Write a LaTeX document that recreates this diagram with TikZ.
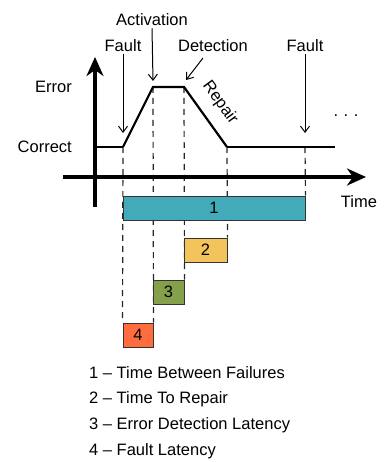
\documentclass[tikz,border=0pt]{standalone}
\usepackage{fontspec}
\setmainfont{Liberation Sans}
\usetikzlibrary{arrows.meta,backgrounds}
\definecolor{barteal}{HTML}{42AAB8}
\definecolor{baryellow}{HTML}{F3C45B}
\definecolor{bargreen}{HTML}{84A04A}
\definecolor{barorange}{HTML}{FF6D3F}
\definecolor{edge}{HTML}{333333}
\begin{document}
\begin{tikzpicture}[x=1pt,y=-1pt,
  txt/.style={font=\fontsize{16.5}{19}\selectfont, inner sep=2pt},
  axis/.style={line width=4pt, -{Stealth[length=19pt,width=17pt,inset=6pt]}},
  pointer/.style={line width=1pt, -{Straight Barb[length=6pt,width=9pt]}},
  thinsig/.style={line width=1.3pt},
  thicksig/.style={line width=2.2pt, line join=miter},
  guide/.style={line width=1.2pt, black!85, dash pattern=on 6pt off 5pt},
  bar/.style={draw=edge, line width=1pt, minimum height=24pt, inner sep=0pt,
    font=\fontsize{16.5}{19}\selectfont, anchor=center}]
\useasboundingbox (0,0) rectangle (387,462);

% signal corners
\coordinate (s0) at (96,147);
\coordinate (f1) at (123,147);
\coordinate (a1) at (153,87);
\coordinate (d1) at (184,87);
\coordinate (r1) at (227,147);
\coordinate (f2) at (305,147);
\coordinate (s1) at (335,147);

% interval bars
\node[bar, fill=barteal,    minimum width=182pt] (b1) at (214,208) {1};
\node[bar, fill=baryellow,  minimum width=43pt]  (b2) at (205.5,250) {2};
\node[bar, fill=bargreen,   minimum width=31pt]  (b3) at (168.5,292) {3};
\node[bar, fill=barorange,  minimum width=30pt]  (b4) at (138,335) {4};

% guide lines from the signal down to the bars, behind everything
\begin{pgfonlayer}{background}
\draw[guide] (f1) -- (b4.north west);
\draw[guide] (a1) -- (b4.north east);
\draw[guide] (d1) -- (b3.north east);
\draw[guide] (r1) -- (b2.north east);
\draw[guide] (f2) -- (b1.north east);
\end{pgfonlayer}

% axes
\coordinate (ybot) at (95,207);
\coordinate (ytop) at (95,57);
\coordinate (xl) at (63,177);
\coordinate (xr) at (366,177);
\draw[axis] (ybot) -- (ytop);
\draw[axis] (xl) -- (xr);

% signal
\draw[thinsig] (s0) -- (f1);
\draw[thicksig] (f1) -- (a1) -- (d1) -- (r1);
\draw[thinsig] (r1) -- (s1);

% level and axis labels
\node[txt, anchor=east] (lerr) at (74,87) {Error};
\node[txt, anchor=east] (lcor) at (74,147) {Correct};
\node[txt] (ltime) at (359,202) {Time};
\node[txt] (ldots) at (346,116) {.\,\,.\,\,.};
\node[txt, rotate=-54] (lrep) at (220,103) {Repair};

% event labels and pointers
\node[txt] (lf1) at (123,46) {Fault};
\node[txt] (lact) at (152,20) {Activation};
\node[txt] (ldet) at (213,46) {Detection};
\node[txt] (lf2) at (305,46) {Fault};
\coordinate (tf1) at (123,133);
\coordinate (tact) at (153,81);
\coordinate (sdet) at (203,58);
\coordinate (tdet) at (186,80);
\coordinate (tf2) at (305,133);
\draw[pointer] (lf1.south) -- (tf1);
\draw[pointer] (lact.south) -- (tact);
\draw[pointer] (sdet) -- (tdet);
\draw[pointer] (lf2.south) -- (tf2);

% legend
\node[txt, anchor=west] (k1) at (87,373) {1 -- Time Between Failures};
\node[txt, anchor=west] (k2) at (87,399) {2 -- Time To Repair};
\node[txt, anchor=west] (k3) at (87,425) {3 -- Error Detection Latency};
\node[txt, anchor=west] (k4) at (87,451) {4 -- Fault Latency};
\end{tikzpicture}
\end{document}
